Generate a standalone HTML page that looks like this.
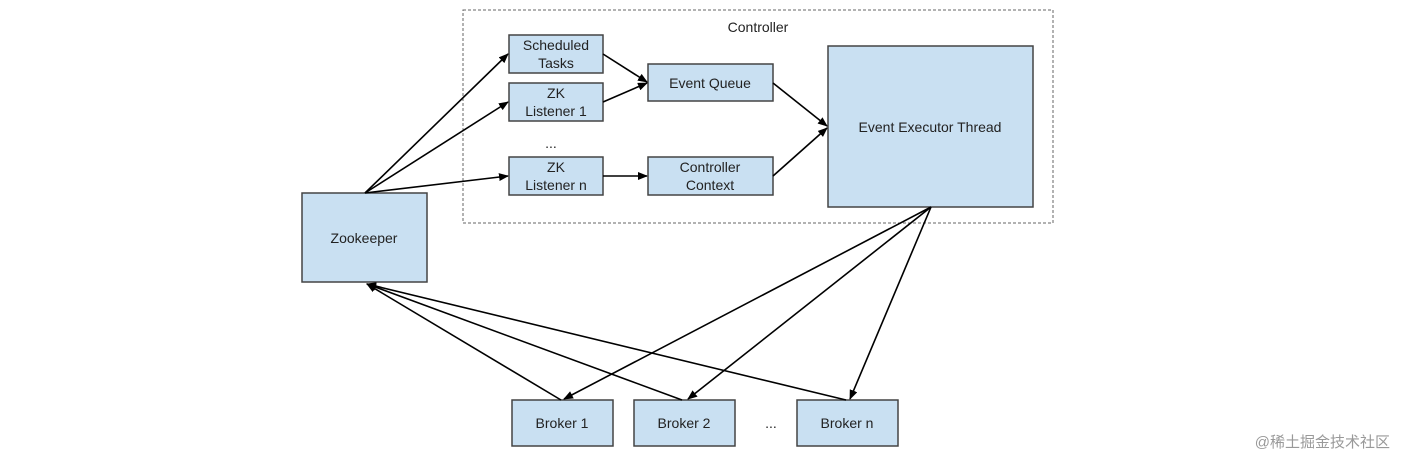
<!DOCTYPE html>
<html><head><meta charset="utf-8"><style>
html,body{margin:0;padding:0;background:#fff;}
svg text{font-family:"Liberation Sans",Arial,sans-serif;font-size:14px;fill:#222;}
</style></head><body>
<svg width="1404" height="468" viewBox="0 0 1404 468" xmlns="http://www.w3.org/2000/svg">
<defs>
<marker id="a" markerWidth="10" markerHeight="8" refX="9" refY="4" orient="auto" markerUnits="userSpaceOnUse">
<path d="M0,0 L10,4 L0,8 z" fill="#000"/></marker>
</defs>
<rect x="463" y="10" width="590" height="213" fill="none" stroke="#666" stroke-dasharray="3,2" stroke-width="1"/>
<text x="758" y="32" text-anchor="middle">Controller</text>
<g fill="#c9e0f2" stroke="#444" stroke-width="1.5">
<rect x="509" y="35" width="94" height="38"/>
<rect x="509" y="83" width="94" height="38"/>
<rect x="509" y="157" width="94" height="38"/>
<rect x="648" y="64" width="125" height="37"/>
<rect x="648" y="157" width="125" height="38"/>
<rect x="828" y="46" width="205" height="161"/>
<rect x="302" y="193" width="125" height="89"/>
<rect x="512" y="400" width="101" height="46"/>
<rect x="634" y="400" width="101" height="46"/>
<rect x="797" y="400" width="101" height="46"/>
</g>
<g text-anchor="middle">
<text x="556" y="50">Scheduled</text><text x="556" y="68">Tasks</text>
<text x="556" y="98">ZK</text><text x="556" y="116">Listener 1</text>
<text x="556" y="172">ZK</text><text x="556" y="190">Listener n</text>
<text x="710" y="88">Event Queue</text>
<text x="710" y="172">Controller</text><text x="710" y="190">Context</text>
<text x="930" y="132">Event Executor Thread</text>
<text x="364" y="243">Zookeeper</text>
<text x="562" y="428">Broker 1</text>
<text x="684" y="428">Broker 2</text>
<text x="847" y="428">Broker n</text>
<text x="551" y="148">...</text>
<text x="771" y="428">...</text>
</g>
<g stroke="#000" stroke-width="1.6" fill="none" marker-end="url(#a)">
<line x1="365" y1="193" x2="508" y2="54"/>
<line x1="365" y1="193" x2="508" y2="102"/>
<line x1="365" y1="193" x2="508" y2="176"/>
<line x1="603" y1="54" x2="647" y2="82"/>
<line x1="603" y1="102" x2="647" y2="83"/>
<line x1="603" y1="176" x2="647" y2="176"/>
<line x1="773" y1="83" x2="827" y2="126"/>
<line x1="773" y1="176" x2="827" y2="128"/>
<line x1="931" y1="207" x2="564" y2="399"/>
<line x1="931" y1="207" x2="688" y2="399"/>
<line x1="931" y1="207" x2="850" y2="399"/>
<line x1="561" y1="400" x2="367" y2="284"/>
<line x1="682" y1="400" x2="367" y2="284"/>
<line x1="846" y1="400" x2="367" y2="284"/>
</g>
<text x="1390" y="447" text-anchor="end" style="font-family:'Liberation Sans','Noto Sans CJK SC',sans-serif;font-size:15px;fill:#999;">@稀土掘金技术社区</text>
</svg>
</body></html>
